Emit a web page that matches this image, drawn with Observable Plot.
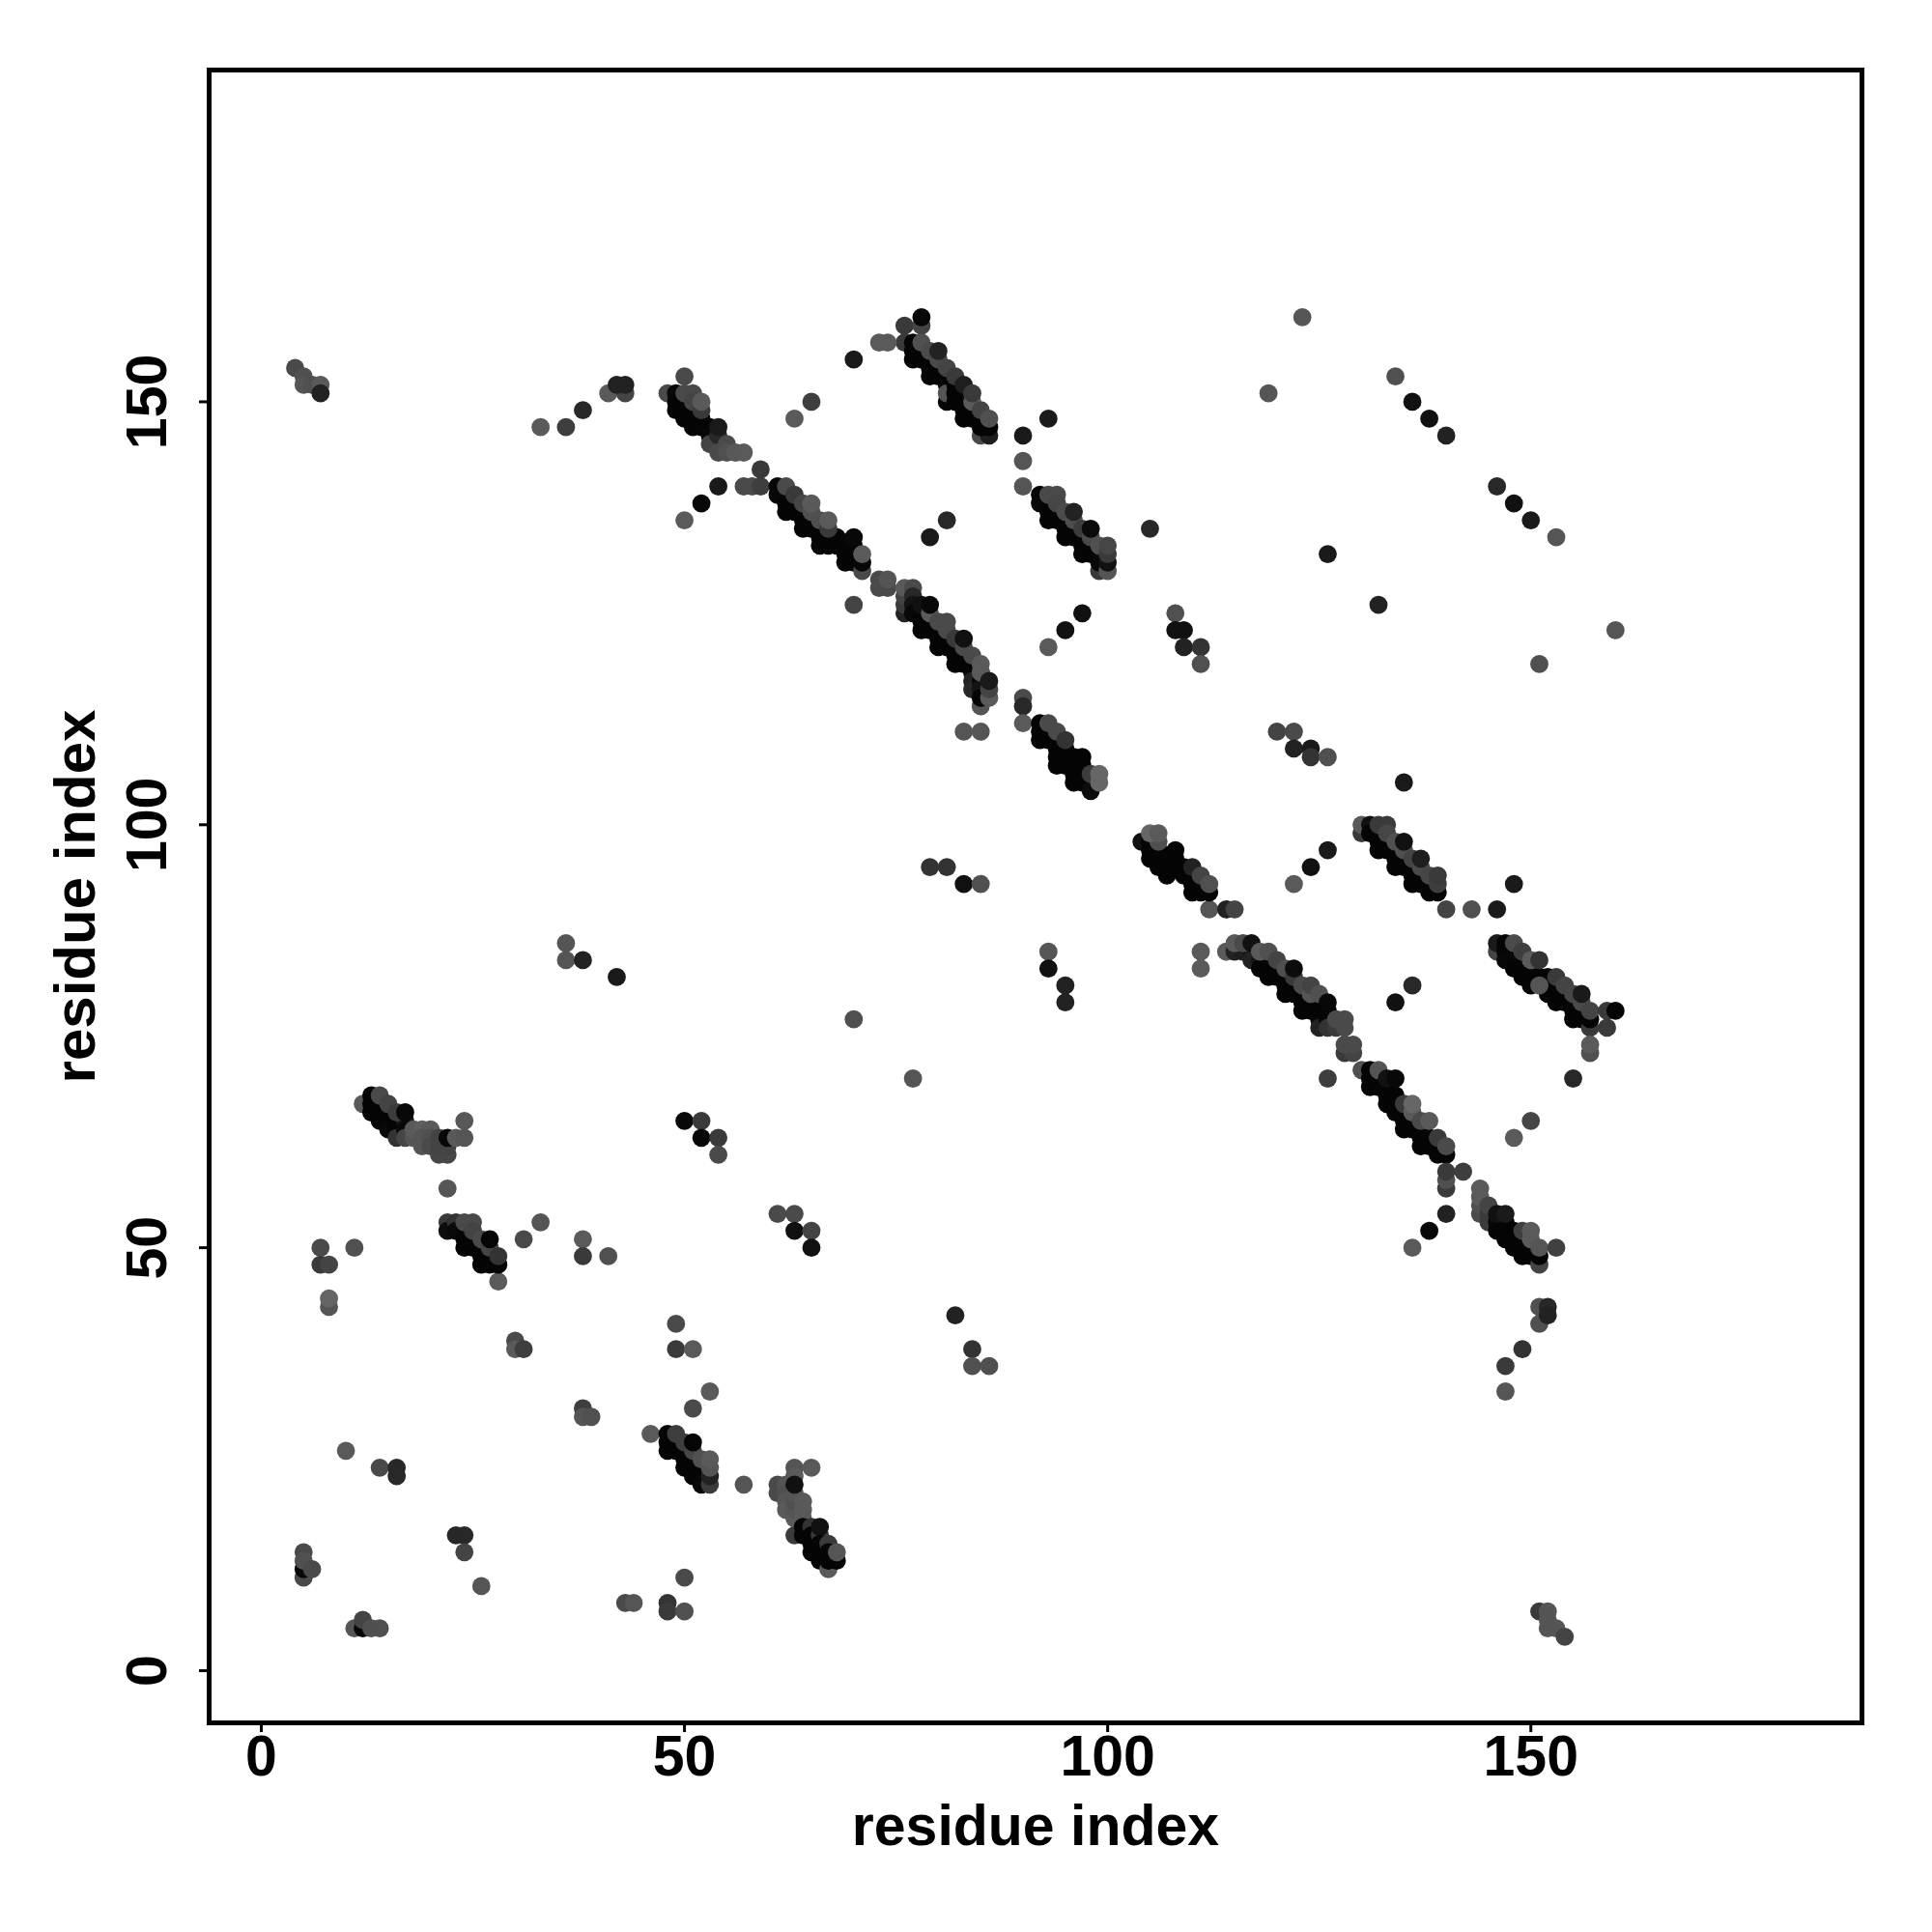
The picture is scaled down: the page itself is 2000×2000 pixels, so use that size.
<!DOCTYPE html>
<html><head><meta charset="utf-8">
<script src="https://cdn.jsdelivr.net/npm/d3@7"></script>
<script src="https://cdn.jsdelivr.net/npm/@observablehq/plot@0.6"></script>
<style>html,body{margin:0;padding:0;background:#fff}</style></head>
<body><div id="chart"></div>
<script>
// each entry: residue i, residue j, grey shade (0 black .. 255 white); later entries lie on top
const xTicks=[0,50,100,150];
const yTicks=[0,50,100,150];
const axisTitle="residue index";
const scattered=[
[4,154,74],[5,153,80],[5,152,85],[6,152,80],[7,152,90],[7,151,34],
[33,147,90],[36,147,62],[38,149,40],[41,151,90],[43,151,68],[42,152,34],[43,152,34],
[70,155,26],[123,160,85],[119,151,85],[134,153,80],[136,150,17],[138,148,17],[140,146,34],
[63,148,90],[65,150,62],[50,153,74],
[146,140,40],[148,138,17],[150,136,26],[153,134,85],
[126,132,26],[132,126,34],[160,123,85],[151,119,80],[70,126,68],
[90,146,26],[90,143,85],[90,140,85],[93,148,26],[105,135,40],[81,136,40],[79,134,26],
[97,125,17],[95,123,17],[93,121,90],
[108,125,80],[108,123,17],[109,123,17],[109,121,34],[111,121,51],[111,119,80],
[54,140,26],[52,138,8],[50,136,90],[57,140,74],[58,140,74],[59,140,62],[59,142,58],
[73,128,74],[74,128,74],[73,129,74],[74,129,85],
[83,111,85],[85,111,85],[90,115,74],[90,114,40],[90,112,90],
[120,111,68],[122,111,74],[122,109,34],[124,109,26],[124,108,51],[126,108,80],[135,105,26],
[126,97,26],[124,95,17],[122,93,90],
[79,95,51],[81,95,51],[83,93,17],[85,93,80],
[112,90,85],[114,90,34],[115,90,68],
[93,85,85],[93,83,17],[95,81,34],[95,79,34],[111,85,90],[111,83,90],
[36,86,85],[36,84,85],[38,84,34],[42,82,26],[70,77,80],[77,70,85],
[140,90,68],[143,90,80],[146,90,26],[148,93,26],[136,81,40],[134,79,17],
[155,70,40],[126,70,62],[150,65,70],[148,63,90],
[144,57,90],[140,54,34],[138,52,8],[136,50,90],[142,59,62],
[50,65,8],[52,65,58],[52,63,8],[54,63,58],[54,61,74],
[61,54,74],[63,54,74],[63,52,17],[65,52,68],[65,50,17],
[22,57,85],[7,50,74],[11,50,80],[7,48,58],[8,48,68],[8,43,85],[8,44,100],
[31,51,74],[33,53,85],[38,51,90],[38,49,58],[41,49,80],[28,46,90],
[82,42,34],[84,38,51],[84,36,80],[86,36,80],
[49,41,74],[49,38,58],[51,38,90],[53,33,90],[51,31,74],
[30,39,74],[30,38,90],[31,38,62],[38,31,62],[38,30,85],[39,30,80],[46,28,90],
[10,26,90],[14,24,74],[16,24,40],[16,23,40],[57,22,85],
[23,16,40],[24,16,40],[24,14,68],[26,10,85],
[5,14,74],[5,11,74],[5,12,8],[5,13,80],[6,12,74],
[50,11,74],[43,8,74],[44,8,85],[48,8,51],[48,7,58],[50,7,80],
[11,5,85],[12,5,8],[12,6,68],[13,5,80],[14,5,80],
[151,43,80],[151,41,80],[152,43,40],[152,42,34],[149,38,51],[147,36,58],[147,33,85],
[151,7,58],[152,7,85],[152,6,85],[152,5,85],[153,5,85],[154,4,68]
];
const band1=[[48,151,74],[49,151,8],[49,150,5],[49,149,5],[50,150,5],[50,149,5],[50,148,5],[51,149,5],[51,148,5],[51,147,5],[52,148,5],[52,147,5],[53,147,5],[53,146,8],[50,151,74],[51,151,72],[51,150,68],[52,149,58],[52,150,90],[53,145,68],[54,146,40],[54,147,26],[54,144,74],[55,145,74],[55,144,80],[56,144,88],[57,144,90]];
const band2=[[61,140,8],[61,139,8],[62,139,8],[62,138,5],[62,137,5],[63,138,5],[63,137,5],[64,137,5],[64,136,5],[64,135,5],[65,136,5],[65,135,5],[66,135,5],[66,134,5],[66,133,5],[67,134,5],[67,133,5],[68,134,5],[68,133,5],[69,133,5],[69,132,5],[69,131,5],[70,133,5],[70,132,5],[70,131,5],[71,130,74],[71,131,8],[62,140,74],[63,139,58],[64,138,70],[65,137,80],[65,138,90],[66,136,78],[67,135,58],[67,136,90],[70,134,8],[71,132,90]];
const band3=[[76,125,34],[76,126,58],[76,127,68],[76,128,90],[77,128,74],[77,127,40],[77,126,20],[77,125,8],[78,125,5],[78,124,5],[78,123,5],[79,124,5],[79,123,5],[80,123,5],[80,122,5],[80,121,5],[81,122,5],[81,121,5],[82,121,5],[82,120,5],[82,119,5],[83,120,5],[83,119,5],[84,119,5],[84,118,5],[85,114,85],[84,117,34],[84,116,40],[85,118,5],[85,117,10],[85,116,20],[85,115,5],[78,126,17],[79,125,90],[79,126,8],[80,124,74],[81,123,74],[81,124,74],[82,122,58],[83,121,74],[83,122,17],[84,120,74],[85,119,90],[85,118,90],[86,115,90],[86,116,68],[86,117,26]];
const band4=[[92,139,8],[92,138,8],[93,138,5],[93,137,5],[93,136,5],[94,137,5],[94,136,5],[95,136,5],[95,135,5],[95,134,5],[96,135,5],[96,134,5],[97,134,5],[97,133,5],[97,132,5],[98,133,5],[98,132,5],[99,132,5],[99,130,58],[99,131,8],[100,130,85],[100,131,17],[93,139,74],[94,139,74],[94,138,70],[95,137,75],[96,136,78],[96,137,34],[97,135,60],[98,134,74],[98,135,10],[99,133,80],[100,132,58],[100,133,70]];
const band5=[[76,159,58],[78,159,68],[78,160,8],[76,157,58],[77,157,5],[77,156,5],[77,155,5],[78,156,5],[78,155,5],[79,155,5],[79,154,5],[79,153,5],[80,154,5],[80,153,5],[81,153,5],[81,152,5],[81,150,5],[81,151,85],[82,152,5],[82,151,5],[82,150,5],[83,151,5],[83,150,5],[83,149,5],[83,148,5],[84,149,5],[84,148,5],[85,146,74],[86,146,30],[85,148,5],[85,147,5],[86,147,5],[78,157,80],[79,156,74],[80,155,74],[80,156,34],[81,154,68],[82,153,58],[83,152,30],[84,150,90],[84,151,58],[85,149,68],[86,148,80],[73,157,90],[74,157,90]];
const band6=[[92,112,5],[92,111,5],[92,110,5],[93,111,5],[93,110,5],[94,110,5],[94,109,5],[94,108,5],[94,107,5],[95,109,5],[95,108,5],[95,107,5],[96,108,5],[96,107,5],[96,106,5],[96,105,5],[97,108,5],[97,107,5],[97,106,5],[97,105,5],[98,105,5],[98,104,12],[93,112,74],[94,111,74],[95,110,51],[98,106,60],[99,105,102],[99,106,102]];
const band7=[[104,98,17],[105,97,5],[105,96,5],[106,97,5],[106,96,5],[106,95,5],[107,96,5],[107,95,5],[107,94,5],[108,97,5],[108,96,5],[108,95,5],[109,95,5],[109,94,5],[110,94,5],[110,93,5],[110,92,5],[111,93,5],[111,92,5],[112,92,5],[105,98,5],[106,98,80],[105,99,102],[106,99,90],[110,95,34],[111,94,68],[112,93,80]];
const band8=[[114,85,90],[115,85,34],[116,85,30],[117,85,20],[117,84,34],[118,84,20],[118,83,5],[119,83,5],[119,82,5],[120,83,5],[120,82,5],[121,82,5],[121,81,5],[121,80,5],[122,81,5],[122,80,5],[123,80,5],[123,79,5],[123,78,5],[124,79,5],[124,78,5],[125,78,5],[125,77,5],[125,76,34],[126,78,5],[126,77,5],[126,76,51],[115,86,90],[116,86,74],[117,86,17],[118,85,90],[119,85,80],[120,84,68],[121,83,78],[122,82,58],[122,83,12],[123,81,74],[124,80,85],[124,81,68],[125,80,80],[126,79,8],[127,76,58],[128,76,74],[127,77,74],[128,77,74],[128,73,58],[129,73,68],[128,74,74],[129,74,74]];
const band9=[[130,71,80],[131,71,5],[131,70,5],[131,69,5],[132,70,5],[132,69,5],[133,69,5],[133,68,5],[133,67,5],[134,68,5],[134,67,5],[134,66,5],[135,66,5],[135,65,5],[135,64,5],[136,65,5],[136,64,5],[137,64,5],[137,63,5],[137,62,5],[138,63,5],[138,62,5],[139,62,5],[139,61,5],[140,61,5],[132,71,85],[133,70,17],[134,70,8],[135,67,58],[136,66,90],[136,67,102],[137,65,74],[138,65,90],[139,63,58],[140,62,74],[140,57,58],[140,58,80],[140,59,58]];
const band10=[[130,99,58],[130,100,90],[131,100,17],[131,99,5],[132,99,5],[132,98,5],[132,97,5],[133,98,5],[133,97,5],[134,97,5],[134,96,5],[134,95,5],[135,96,5],[135,95,5],[136,95,5],[136,94,5],[136,93,5],[137,94,5],[137,93,5],[138,93,5],[138,92,5],[139,92,5],[132,100,58],[133,100,58],[133,99,70],[134,98,80],[135,97,80],[135,98,17],[136,96,68],[137,95,74],[137,96,30],[138,94,70],[139,93,62],[139,94,58]];
const band11=[[146,85,68],[146,86,26],[147,86,5],[147,85,5],[147,84,8],[148,84,8],[148,83,5],[149,84,8],[149,83,5],[149,82,5],[150,83,5],[150,82,5],[150,81,5],[151,82,5],[152,82,5],[152,81,5],[152,80,5],[153,80,5],[153,79,5],[154,80,5],[154,79,5],[155,79,5],[155,78,5],[155,77,5],[156,78,5],[156,77,5],[157,76,58],[157,77,5],[148,86,74],[149,85,62],[150,84,90],[151,84,51],[151,81,85],[153,82,58],[154,81,68],[155,80,70],[156,79,74],[156,80,26],[157,78,68],[159,76,58],[159,78,58],[160,78,5],[157,73,80],[157,74,90]];
const band12=[[144,54,74],[144,55,80],[144,56,90],[145,53,60],[145,54,58],[145,55,68],[146,53,8],[146,52,5],[147,53,5],[147,52,5],[147,51,5],[148,52,5],[148,51,5],[148,50,5],[149,50,5],[149,49,5],[150,50,5],[150,49,5],[151,48,68],[151,49,5],[146,54,17],[147,54,26],[149,52,62],[150,51,90],[150,52,90],[151,50,85],[153,50,64]];
const band13=[[48,28,5],[48,27,5],[48,26,5],[49,27,5],[49,26,5],[50,26,5],[50,25,5],[50,24,5],[51,25,5],[51,24,5],[51,23,5],[52,24,5],[52,23,5],[52,22,8],[53,22,58],[53,23,34],[49,28,62],[50,27,62],[51,26,70],[51,27,5],[52,25,80],[53,24,85],[53,25,90]];
const band14=[[22,53,58],[22,52,14],[23,53,51],[23,52,10],[24,52,5],[24,51,5],[24,50,5],[25,51,5],[25,50,5],[26,50,5],[26,49,5],[26,48,5],[27,49,5],[27,48,5],[28,48,5],[24,53,74],[25,53,74],[25,52,68],[26,51,74],[27,50,68],[27,51,5],[28,49,51]];
const band15=[[12,67,90],[13,68,5],[13,67,5],[13,66,5],[14,67,5],[14,66,5],[14,65,5],[15,66,5],[15,65,5],[15,64,8],[16,65,5],[16,64,5],[16,63,51],[17,65,30],[17,64,10],[17,63,70],[14,68,74],[15,67,68],[16,66,60],[17,66,8],[18,63,85],[18,64,90],[19,64,95],[20,64,90],[19,63,85],[19,62,85],[20,63,80],[20,62,74],[21,61,70],[22,61,70],[21,62,68],[21,63,68],[22,62,68],[22,63,8],[23,63,90],[24,63,85],[24,65,88]];
const band16=[[61,22,74],[61,21,74],[62,22,85],[62,21,80],[62,20,85],[62,19,90],[63,16,58],[63,18,90],[63,19,85],[63,20,80],[63,21,85],[63,24,85],[63,23,90],[63,22,17],[65,24,90],[64,20,90],[64,19,90],[64,18,90],[64,17,5],[64,16,5],[65,17,51],[65,16,5],[65,15,5],[65,14,5],[66,16,58],[66,17,17],[66,15,5],[66,14,5],[66,13,5],[67,15,58],[67,14,5],[67,12,90],[67,13,5],[68,13,5],[68,14,85]];

const contacts=[scattered,band1,band2,band3,band4,band5,band6,band7,band8,band9,band10,band11,band12,band13,band14,band15,band16].flat()
  .map(([i,j,shade])=>({i,j,shade}));

const ink="#000";
const plot=Plot.plot({
  width:2000,height:2000,
  marginLeft:216,marginRight:73,marginTop:72,marginBottom:217,
  x:{domain:[-6.16,189.12]},
  y:{domain:[-6.17,189.22]},
  color:{type:"identity"},
  style:{fontFamily:"'Liberation Sans',Arial,sans-serif",fontWeight:"bold",background:"#fff",color:ink},
  marks:[
    Plot.dot(contacts,{x:"i",y:"j",r:9.4,fill:d=>`rgb(${d.shade},${d.shade},${d.shade})`,stroke:"none"}),
    Plot.frame({stroke:ink,strokeWidth:5}),
    Plot.axisX({ticks:xTicks,tickSize:10,strokeWidth:3,tickPadding:3,fontSize:59,label:axisTitle,labelAnchor:"center",labelArrow:"none",labelOffset:126,tickFormat:d=>String(d)}),
    Plot.axisY({ticks:yTicks,tickSize:10,strokeWidth:3,tickFormat:()=>"",label:null}),
    Plot.axisY({ticks:yTicks,tickSize:0,tickPadding:0,fontSize:59,tickRotate:-90,label:null,tickFormat:d=>String(d),textAnchor:"middle",lineAnchor:"bottom",dx:-45}),
    Plot.text([axisTitle],{frameAnchor:"left",dx:-119,rotate:-90,fontSize:60,fontWeight:"bold",lineAnchor:"bottom",textAnchor:"middle"})
  ]
});
document.getElementById("chart").appendChild(plot);
</script></body></html>
